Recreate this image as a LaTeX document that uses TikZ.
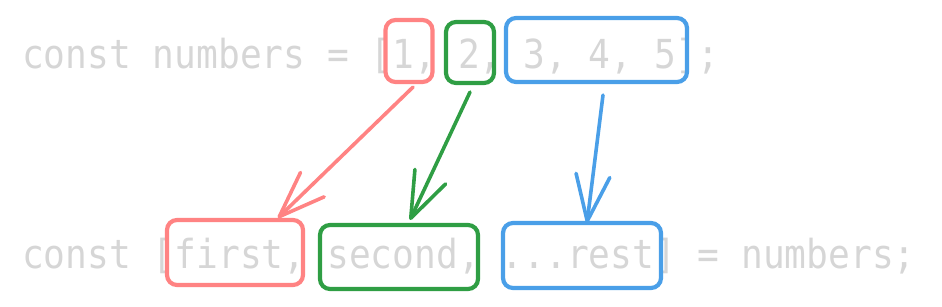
\documentclass[tikz,border=0pt]{standalone}
\usepackage{fontspec}
\newfontfamily\codefont[FakeStretch=0.905]{DejaVu Sans Mono}
\usetikzlibrary{arrows.meta,calc}
\definecolor{codegray}{HTML}{D6D6D6}
\definecolor{xred}{HTML}{FF8383}
\definecolor{xgreen}{HTML}{2F9E44}
\definecolor{xblue}{HTML}{4A9FE8}
\tikzset{
  code/.style={inner sep=0pt, anchor=base west, text=codegray,
    font=\codefont\fontsize{40}{44}\selectfont},
  hbox/.style={draw=#1, line width=4.2pt, rounded corners=10pt, inner sep=0pt},
  harrow/.style={draw=#1, line width=3.6pt, line cap=round,
    -{Straight Barb[length=46pt,width=34pt,round]}},
}
\begin{document}
\begin{tikzpicture}[x=1pt,y=-1pt]
\useasboundingbox (0,0) rectangle (942,307);
% code lines
\node[code] (top) at (22,69) {const numbers = [1, 2, 3, 4, 5];};
\node[code] (bot) at (22,268) {const [first, second, ...rest] = numbers;};
% top boxes
\node[hbox=xred, minimum width=47pt, minimum height=62pt] (r1) at (409,51) {};
\node[hbox=xgreen, minimum width=48pt, minimum height=61pt] (g1) at (470,52.5) {};
\node[hbox=xblue, minimum width=181pt, minimum height=64pt] (b1) at (596.5,50) {};
% bottom boxes
\node[hbox=xred, minimum width=136pt, minimum height=65pt] (r2) at (235,252.5) {};
\node[hbox=xgreen, minimum width=158pt, minimum height=64pt] (g2) at (399,257) {};
\node[hbox=xblue, minimum width=158pt, minimum height=65pt] (b2) at (582,255.5) {};
% arrows
\draw[harrow=xred] ($(r1.south)+(4,3)$) -- ($(r2.north)+(43,0)$);
\draw[harrow=xgreen] ($(g1.south)+(0,7)$) -- ($(g2.north)+(11,-3)$);
\draw[harrow=xblue] ($(b1.south)+(6.5,11)$) -- ($(b2.north)+(5,2)$);
\end{tikzpicture}
\end{document}
